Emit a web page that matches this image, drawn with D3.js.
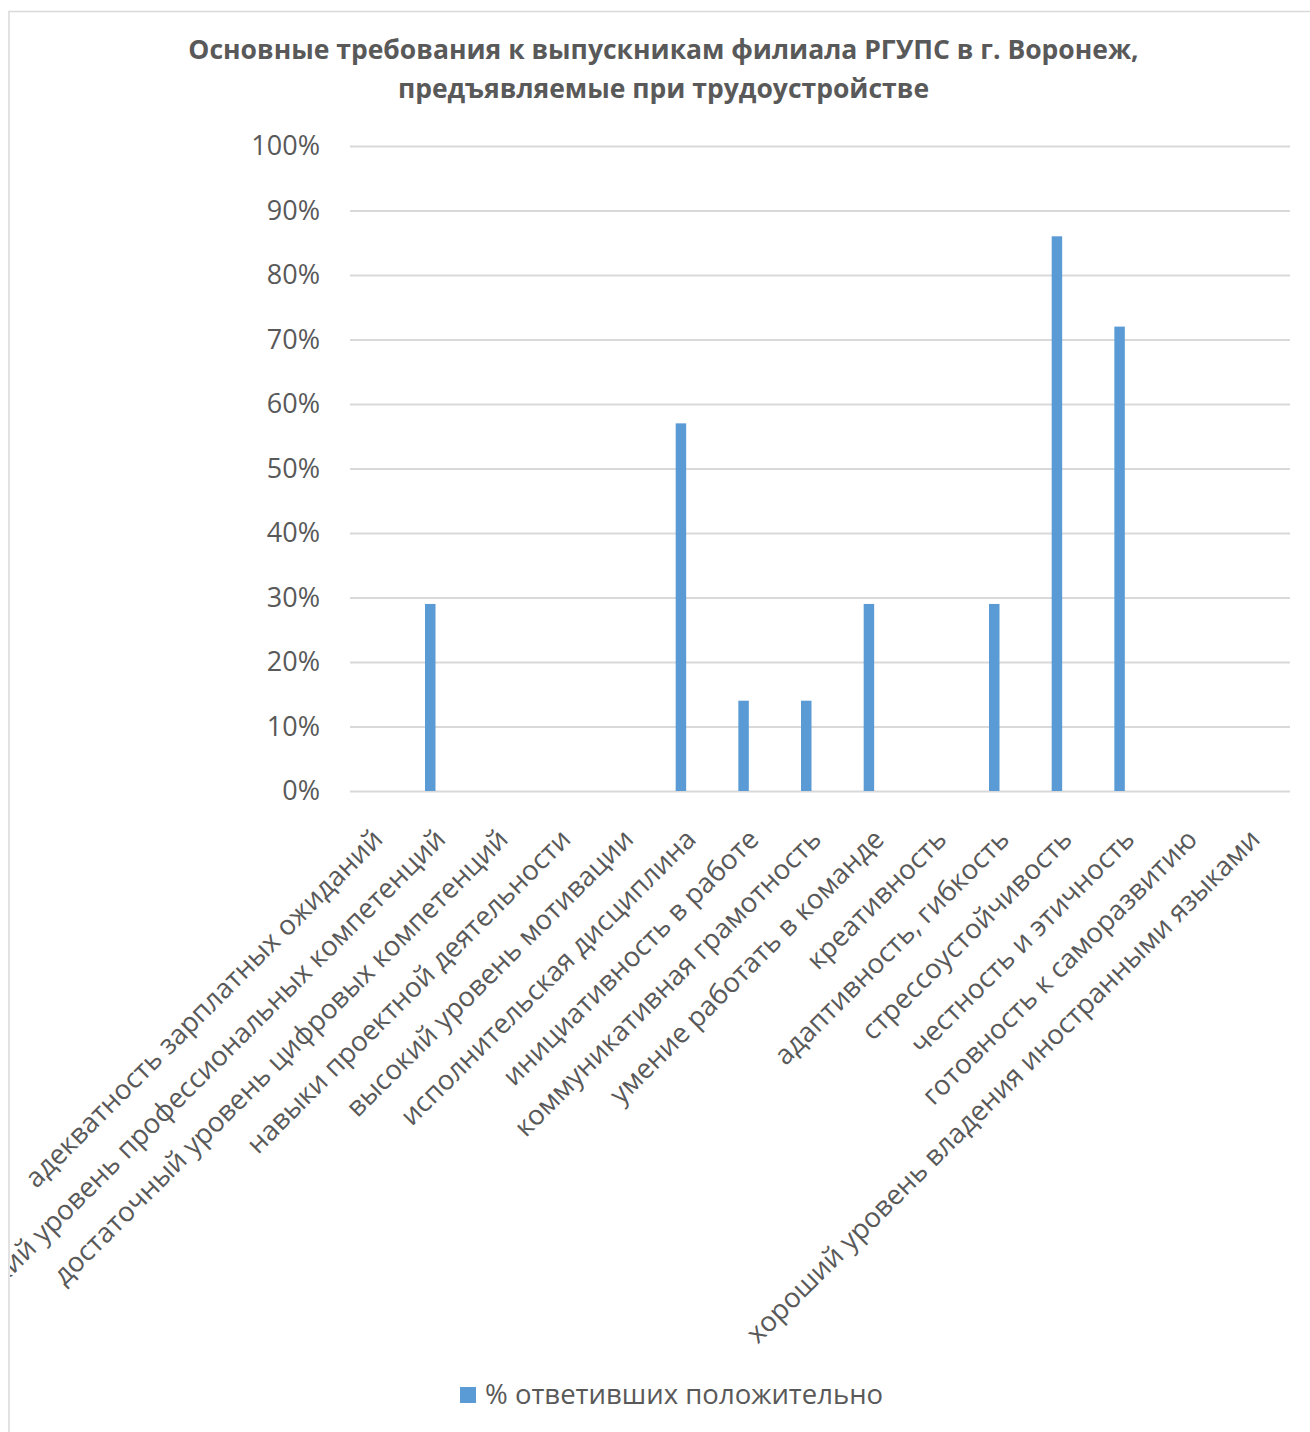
<!DOCTYPE html>
<meta charset="utf-8">
<html>
<head>
	<script src="https://d3js.org/d3.v7.min.js"></script>
	<style>
		body { margin: 0; background: #fff; }
		text { font-family: "Open Sans", sans-serif; fill: #595959; }
	</style>
</head>
<body>

<div id="chart"></div>

<script>

// data
var titleLines = ["Основные требования к выпускникам филиала РГУПС в г. Воронеж,", "предъявляемые при трудоустройстве"];
var seriesName = "% ответивших положительно";
var categories = [
	"адекватность зарплатных ожиданий",
	"высокий уровень профессиональных компетенций",
	"достаточный уровень цифровых компетенций",
	"навыки проектной деятельности",
	"высокий уровень мотивации",
	"исполнительская дисциплина",
	"инициативность в работе",
	"коммуникативная грамотность",
	"умение работать в команде",
	"креативность",
	"адаптивность, гибкость",
	"стрессоустойчивость",
	"честность и этичность",
	"готовность к саморазвитию",
	"хороший уровень владения иностранными языками"
];
var values = [0, 0.29, 0, 0, 0, 0.57, 0.14, 0.14, 0.29, 0, 0.29, 0.86, 0.72, 0, 0];
var yTicks = [0, 0.1, 0.2, 0.3, 0.4, 0.5, 0.6, 0.7, 0.8, 0.9, 1];

var W = 1310, H = 1432;
var plot = {left: 350, right: 1290, top: 146, bottom: 791};

var svg = d3.select("#chart")
	.append("svg")
	.attr("width", W)
	.attr("height", H);

svg.append("rect").attr("width", W).attr("height", H).attr("fill", "#fff");

// clip at the chart border (the long label is cut off there)
svg.append("clipPath").attr("id", "area")
	.append("rect").attr("x", 10).attr("y", 12).attr("width", W).attr("height", H);

var g = svg.append("g").attr("clip-path", "url(#area)");

// border of the chart area
svg.append("rect")
	.attr("x", 9).attr("y", 11.5)
	.attr("width", W + 20).attr("height", H + 20)
	.attr("fill", "none")
	.attr("stroke", "#d9d9d9")
	.attr("stroke-width", 1.5);

// title
svg.append("text")
	.attr("x", 663.5)
	.attr("y", 59)
	.attr("text-anchor", "middle")
	.style("font-size", "26.5px")
	.style("font-weight", "bold")
	.selectAll("tspan")
	.data(titleLines)
	.enter()
	.append("tspan")
	.attr("x", 663.5)
	.attr("dy", function(d, i) { return i === 0 ? 0 : 39; })
	.text(function(d) { return d; });

var x = d3.scaleBand()
	.domain(categories)
	.range([plot.left, plot.right]);

var y = d3.scaleLinear()
	.domain([0, 1])
	.range([plot.bottom, plot.top]);

// gridlines
g.append("g")
	.attr("transform", "translate(" + plot.left + ",0)")
	.call(d3.axisLeft(y).tickValues(yTicks).tickSize(-(plot.right - plot.left)).tickFormat(""))
	.call(function(s) { s.select(".domain").remove(); })
	.selectAll("line")
	.attr("stroke", "#d9d9d9")
	.attr("stroke-width", 2);

// y axis labels
g.append("g")
	.attr("transform", "translate(" + plot.left + ",0)")
	.call(d3.axisLeft(y).tickValues(yTicks).tickSize(0).tickPadding(30).tickFormat(d3.format(".0%")))
	.call(function(s) { s.select(".domain").remove(); })
	.selectAll("text")
	.attr("fill", "#595959")
	.style("font-family", "'Open Sans', sans-serif")
	.style("font-size", "27px");

// bars (first of two slots in each category)
g.selectAll("rect.bar")
	.data(values)
	.enter()
	.append("rect")
	.attr("class", "bar")
	.attr("x", function(d, i) { return x(categories[i]) + x.bandwidth() / 2 - 19; })
	.attr("y", function(d) { return y(d); })
	.attr("width", 10.5)
	.attr("height", function(d) { return y(0) - y(d); })
	.attr("fill", "#5b9bd5");

// x axis labels
g.append("g")
	.attr("transform", "translate(0," + plot.bottom + ")")
	.call(d3.axisBottom(x).tickSize(0))
	.call(function(s) { s.select(".domain").remove(); })
	.selectAll("text")
	.attr("y", 0)
	.attr("dy", 0)
	.attr("text-anchor", "end")
	.attr("transform", "translate(3,50) rotate(-45)")
	.attr("fill", "#595959")
	.style("font-family", "'Open Sans', sans-serif")
	.style("font-size", "27.5px");

// legend
var legend = svg.append("g");
legend.append("rect")
	.attr("x", 460).attr("y", 1387)
	.attr("width", 16).attr("height", 16)
	.attr("fill", "#5b9bd5");
legend.append("text")
	.attr("x", 485).attr("y", 1404)
	.style("font-size", "27.5px")
	.text(seriesName);

</script>

</body>
</html>
